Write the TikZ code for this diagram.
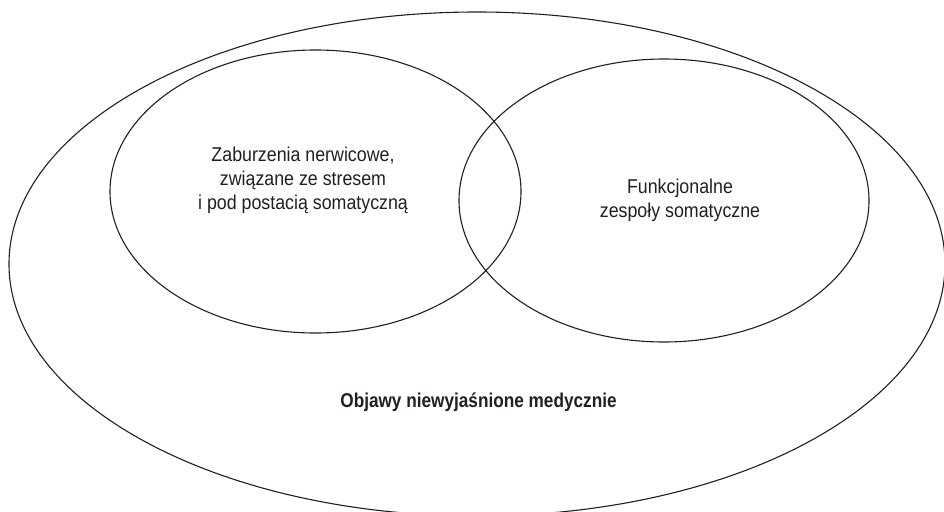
\documentclass[tikz,border=0pt]{standalone}
\usepackage{fontspec}
\setmainfont{Liberation Sans}[FakeStretch=0.89, BoldFeatures={FakeStretch=0.86}]
\usepackage{tikz}
\usetikzlibrary{
positioning,
shapes.geometric
}
\definecolor{inkcol}{HTML}{231F20}

\begin{document}
\begin{tikzpicture}[x=1pt, y=-1pt, font=\fontsize{20}{24}\selectfont, text=inkcol,
		set/.style={ellipse, draw=inkcol, line width=1.1pt, inner sep=0pt, minimum width=#1},
		setlabel/.style={align=center, inner sep=0pt}]
		\useasboundingbox (0,0) rectangle (944,511);

		% sets
		\node[set=936pt, minimum height=504pt] (oun)  at (477,264)     {};
		\node[set=411pt, minimum height=283pt] (nerw) at (315.5,191.5) {};
		\node[set=410pt, minimum height=283pt] (fss)  at (664,200.5)   {};

		% labels
		\node[setlabel] (nerwlabel) at (303,180) {Zaburzenia nerwicowe,\\związane ze stresem\\i pod postacią somatyczną};
		\node[setlabel] (fsslabel)  at (680,200) {Funkcjonalne\\zespoły somatyczne};
		\node[setlabel, font=\fontsize{20}{24}\selectfont\bfseries] (ounlabel) at (478.5,402) {Objawy niewyjaśnione medycznie};
\end{tikzpicture}
\end{document}
